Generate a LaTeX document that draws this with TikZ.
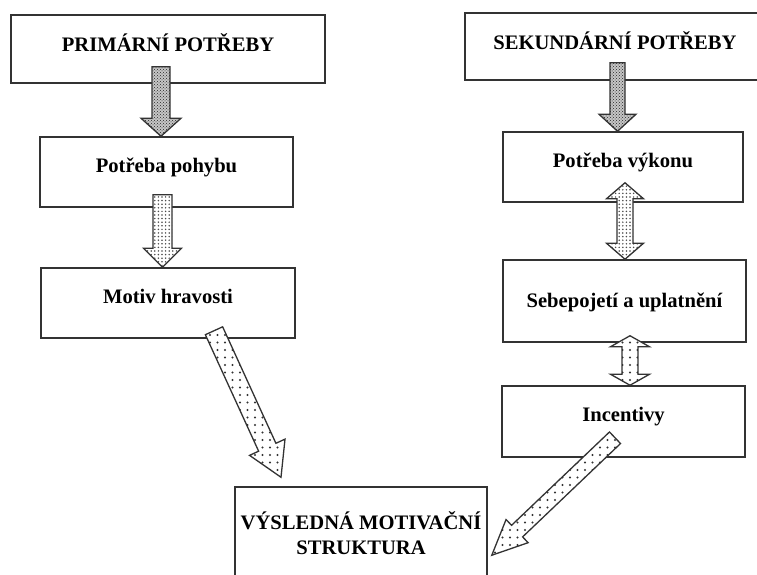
\documentclass[tikz,border=0pt]{standalone}
\usepackage{fontspec}
\setmainfont{Liberation Serif}
\usetikzlibrary{calc}
\usetikzlibrary{patterns}

\pgfdeclarepatternformonly{fine dots}{\pgfqpoint{-1pt}{-1pt}}{\pgfqpoint{1pt}{1pt}}{\pgfqpoint{3.6pt}{3.6pt}}{%
  \pgfpathcircle{\pgfqpoint{0pt}{0pt}}{0.85pt}\pgfusepath{fill}}
\pgfdeclarepatternformonly{sparse dots}{\pgfqpoint{-1.2pt}{-1.2pt}}{\pgfqpoint{1.2pt}{1.2pt}}{\pgfqpoint{7.5pt}{7.5pt}}{%
  \pgfpathcircle{\pgfqpoint{0pt}{0pt}}{1.1pt}\pgfusepath{fill}}

\tikzset{
  box/.style={draw=black!80, line width=1.5pt, font=\bfseries\fontsize{20.6}{25}\selectfont,
    text height=10pt, text depth=10pt},
  dark/.style={draw=black!80, line width=1.3pt, preaction={fill=gray!45}, pattern=crosshatch dots, pattern color=black!85},
  fine/.style={draw=black!80, line width=1.3pt, preaction={fill=white}, pattern=fine dots, pattern color=black!70},
  sparse/.style={draw=black!80, line width=1.3pt, preaction={fill=white}, pattern=sparse dots, pattern color=black!80},
}

% fat arrow: style, from, to, shaft half width, head half width, head length
\newcommand{\fatarrow}[6]{%
  \coordinate (fah) at ($(#3)!#6!(#2)$);
  \path[#1] ($(#2)!#4!90:(#3)$) -- ($(fah)!#4!90:(#3)$) -- ($(fah)!#5!90:(#3)$) -- (#3)
    -- ($(fah)!#5!-90:(#3)$) -- ($(fah)!#4!-90:(#3)$) -- ($(#2)!#4!-90:(#3)$) -- cycle;}
% same with two heads
\newcommand{\fatdarrow}[6]{%
  \coordinate (fda) at ($(#2)!#6!(#3)$);
  \coordinate (fdb) at ($(#3)!#6!(#2)$);
  \path[#1] (#2) -- ($(fda)!#5!90:(#3)$) -- ($(fda)!#4!90:(#3)$) -- ($(fdb)!#4!90:(#3)$)
    -- ($(fdb)!#5!90:(#3)$) -- (#3) -- ($(fdb)!#5!-90:(#3)$) -- ($(fdb)!#4!-90:(#3)$)
    -- ($(fda)!#4!-90:(#3)$) -- ($(fda)!#5!-90:(#3)$) -- cycle;}

\begin{document}
\begin{tikzpicture}[x=1pt,y=-1pt]
    \path[use as bounding box, clip] (0,0) rectangle (757,575);

    \node[box, minimum width=314pt, minimum height=68pt, text height=13pt, text depth=7pt] (prim) at (168,49) {PRIMÁRNÍ POTŘEBY};
    \node[box, minimum width=253pt, minimum height=70pt] (pohyb) at (166.5,172) {Potřeba pohybu};
    \node[box, minimum width=254pt, minimum height=70pt] (hrav) at (168,303) {Motiv hravosti};

    \node[box, minimum width=300pt, minimum height=67pt, text height=13pt, text depth=6pt] (sek) at (615,46.5) {SEKUNDÁRNÍ POTŘEBY};
    \node[box, minimum width=240pt, minimum height=70pt] (vykon) at (623,167) {Potřeba výkonu};
    \node[box, minimum width=243pt, minimum height=82pt, text height=16pt, text depth=4pt] (sebe) at (624.5,301) {Sebepojetí a uplatnění};
    \node[box, minimum width=243pt, minimum height=71pt] (incent) at (623.5,421.5) {Incentivy};

    \node[box, align=center, text height=, text depth=, minimum width=252pt, minimum height=93pt] (vysl) at (361,533.5) {VÝSLEDNÁ MOTIVAČNÍ\\STRUKTURA};

    % left column
    \coordinate (a1s) at ([xshift=-7pt,yshift=17pt]prim.south);
    \coordinate (a1e) at (pohyb.north -| a1s);
    \fatarrow{dark}{a1s}{a1e}{9pt}{20pt}{18pt}
    \coordinate (a2s) at ([xshift=-4pt,yshift=13pt]pohyb.south);
    \coordinate (a2e) at (hrav.north -| a2s);
    \fatarrow{fine}{a2s}{a2e}{9.5pt}{19pt}{19pt}
    \coordinate (a3s) at ([xshift=46pt,yshift=8pt]hrav.south);
    \coordinate (a3e) at ([xshift=-80pt,yshift=9pt]vysl.north);
    \fatarrow{sparse}{a3s}{a3e}{9.5pt}{19.5pt}{33pt}

    % right column
    \coordinate (r1s) at ([xshift=2.5pt,yshift=18pt]sek.south);
    \coordinate (r1e) at (vykon.north -| r1s);
    \fatarrow{dark}{r1s}{r1e}{7.5pt}{18.5pt}{17pt}
    \coordinate (r2s) at ([xshift=2pt,yshift=20pt]vykon.south);
    \coordinate (r2e) at (sebe.north -| r2s);
    \fatdarrow{fine}{r2s}{r2e}{8pt}{18.5pt}{16pt}
    \coordinate (r3s) at ([xshift=5.5pt,yshift=7pt]sebe.south);
    \coordinate (r3e) at (incent.north -| r3s);
    \fatdarrow{sparse}{r3s}{r3e}{8pt}{19.5pt}{11pt}
    \coordinate (r4s) at ([xshift=-8.5pt,yshift=20pt]incent.south);
    \coordinate (r4e) at ([xshift=4pt,yshift=-69pt]vysl.north east);
    \fatarrow{sparse}{r4s}{r4e}{8pt}{16pt}{35pt}
\end{tikzpicture}
\end{document}
